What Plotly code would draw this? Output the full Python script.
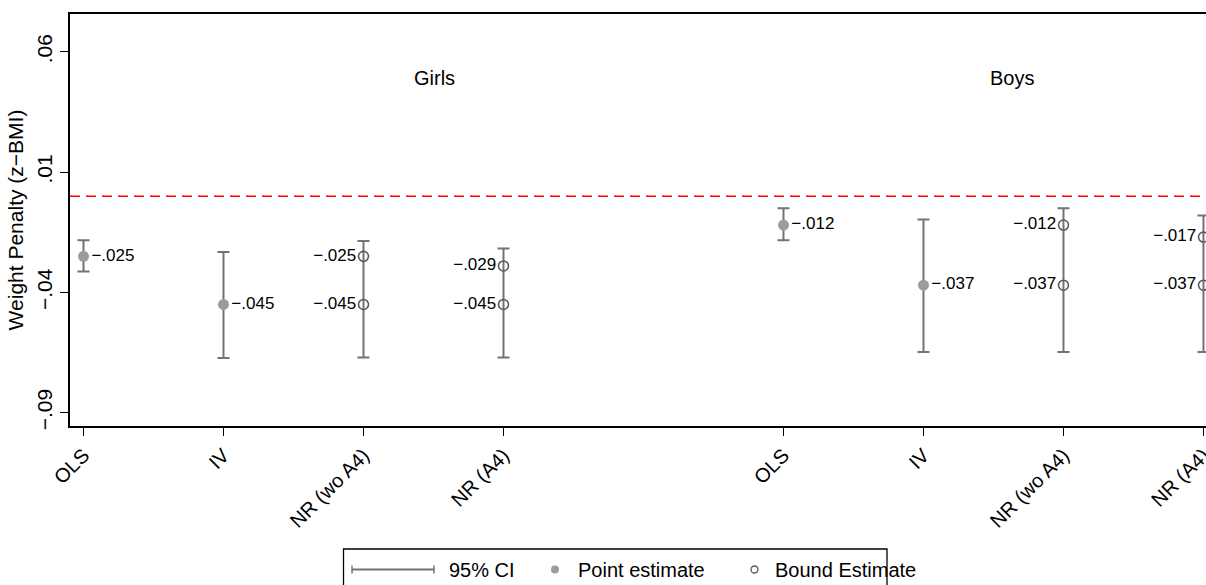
import plotly.graph_objects as go

# ---------------- data ----------------
tick_labels = ["OLS", "IV", "NR (wo A4)", "NR (A4)", "OLS", "IV", "NR (wo A4)", "NR (A4)"]
x_pos = [1, 2, 3, 4, 6, 7, 8, 9]

ci_low = [-0.0313, -0.0672, -0.0670, -0.0670, -0.0183, -0.0648, -0.0648, -0.0648]
ci_high = [-0.0183, -0.0232, -0.0186, -0.0217, -0.0050, -0.0097, -0.0050, -0.0080]

point_x = [1, 2, 6, 7]
point_est = [-0.025, -0.045, -0.012, -0.037]

bound_x = [3, 3, 4, 4, 8, 8, 9, 9]
bound_est = [-0.025, -0.045, -0.029, -0.045, -0.012, -0.037, -0.017, -0.037]

group_names = ["Girls", "Boys"]
group_label_x = [3.51, 7.63]
group_label_y = 0.049

ref_line = 0.0

y_tickvals = [0.06, 0.01, -0.04, -0.09]
y_ticktext = [".06", ".01", "\u2212.04", "\u2212.09"]

def fmt(v):
    s = f"{abs(v):.3f}".lstrip("0")
    return ("\u2212" if v < 0 else "") + s

# ---------------- styles ----------------
FONT = "Liberation Sans, Arial, Helvetica, sans-serif"
CI_COLOR = "#737373"
PT_COLOR = "#9c9c9c"
BD_COLOR = "#5a5a5a"

fig = go.Figure()

mid = [(lo + hi) / 2 for lo, hi in zip(ci_low, ci_high)]
half = [(hi - lo) / 2 for lo, hi in zip(ci_low, ci_high)]
fig.add_trace(go.Scatter(
    x=x_pos, y=mid, mode="markers",
    marker=dict(size=1, color="rgba(0,0,0,0)"),
    error_y=dict(type="data", array=half, symmetric=True,
                 color=CI_COLOR, thickness=2, width=6),
    hoverinfo="skip", showlegend=False,
))

fig.add_trace(go.Scatter(
    x=point_x, y=point_est, mode="markers+text",
    marker=dict(size=11, color=PT_COLOR),
    text=[fmt(v) for v in point_est], textposition="middle right",
    textfont=dict(family=FONT, size=17, color="black"),
    showlegend=False,
))

fig.add_trace(go.Scatter(
    x=bound_x, y=bound_est, mode="markers+text",
    marker=dict(size=10, color=BD_COLOR, symbol="circle-open",
                line=dict(color=BD_COLOR, width=1.6)),
    text=[fmt(v) for v in bound_est], textposition="middle left",
    textfont=dict(family=FONT, size=17, color="black"),
    showlegend=False,
))

fig.add_shape(type="line", xref="paper", yref="y", x0=0, x1=1,
              y0=ref_line, y1=ref_line,
              line=dict(color="red", width=1.4, dash="10px,6px"))

for name, gx in zip(group_names, group_label_x):
    fig.add_annotation(x=gx, y=group_label_y, text=name, showarrow=False,
                       font=dict(family=FONT, size=20, color="black"))

# ---------------- custom legend ----------------
W, H = 1206, 585
ML, MR, MT, MB = 70, 0, 14, 159
pw, ph = W - ML - MR, H - MT - MB

def px(x):
    return (x - ML) / pw

def py(y):
    return (H - MB - y) / ph

fig.add_shape(type="rect", xref="paper", yref="paper",
              x0=px(343.5), x1=px(887), y0=py(549), y1=py(600),
              line=dict(color="black", width=1.3), fillcolor="white")
ly = 569.5
fig.add_shape(type="line", xref="paper", yref="paper",
              x0=px(352), x1=px(434), y0=py(ly), y1=py(ly),
              line=dict(color=CI_COLOR, width=2))
for cx in (352, 434):
    fig.add_shape(type="line", xref="paper", yref="paper",
                  x0=px(cx), x1=px(cx), y0=py(ly - 4), y1=py(ly + 4),
                  line=dict(color=CI_COLOR, width=1.5))
fig.add_shape(type="circle", xref="paper", yref="paper",
              x0=px(551), x1=px(559), y0=py(ly + 4), y1=py(ly - 4),
              fillcolor=PT_COLOR, line=dict(color=PT_COLOR, width=0))
fig.add_shape(type="circle", xref="paper", yref="paper",
              x0=px(751), x1=px(758), y0=py(ly + 3.5), y1=py(ly - 3.5),
              fillcolor="white", line=dict(color=BD_COLOR, width=1.3))
for t, tx in [("95% CI", 447), ("Point estimate", 576), ("Bound Estimate", 773)]:
    fig.add_annotation(xref="paper", yref="paper", x=px(tx), y=py(ly),
                       text=t, showarrow=False, xanchor="left", yanchor="middle",
                       font=dict(family=FONT, size=20, color="black"))

fig.update_layout(
    width=W, height=H,
    margin=dict(l=ML, r=MR, t=MT, b=MB, autoexpand=False),
    paper_bgcolor="white", plot_bgcolor="white",
    font=dict(family=FONT, size=20, color="black"),
    showlegend=False,
)
fig.update_xaxes(
    range=[0.9036, 9.018], tickvals=x_pos, ticktext=tick_labels,
    tickangle=-45, ticks="outside", ticklen=8, tickcolor="black",
    ticklabeloverflow="allow", automargin=False,
    showline=True, linecolor="black", linewidth=1.5, mirror=True,
    showgrid=False, zeroline=False,
    tickfont=dict(family=FONT, size=20, color="black"),
)
fig.update_yaxes(
    range=[-0.0955, 0.0757], tickvals=y_tickvals, ticktext=y_ticktext,
    tickangle=-90, ticks="outside", ticklen=8, tickcolor="black",
    showline=True, linecolor="black", linewidth=1.5, mirror=False,
    showgrid=False, zeroline=False, automargin=False,
    tickfont=dict(family=FONT, size=21, color="black"),
    title=dict(text="Weight Penalty (z\u2212BMI)", standoff=3,
               font=dict(family=FONT, size=21, color="black")),
)

fig.write_html(
    "out.html",
    config={"displayModeBar": False},
    post_script="document.body.style.margin='0';"
                "document.documentElement.style.overflow='hidden';",
)
